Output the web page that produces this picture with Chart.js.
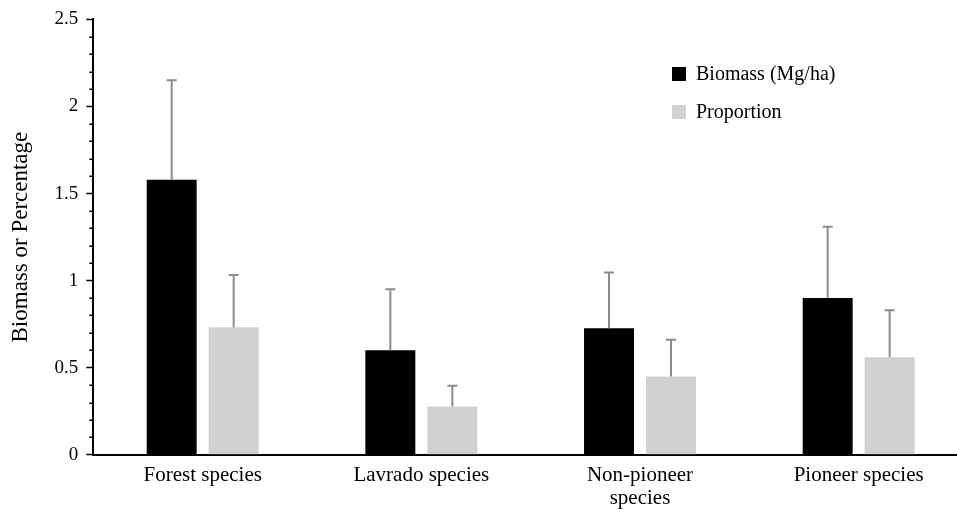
<!DOCTYPE html>
<html>
<head>
<meta charset="utf-8">
<script src="https://cdn.jsdelivr.net/npm/chart.js@4/dist/chart.umd.min.js"></script>
<style>
html,body{margin:0;padding:0;background:#fff;overflow:hidden;}
#wrap{width:970px;height:519px;position:relative;}
</style>
</head>
<body>
<div id="wrap"><canvas id="c"></canvas></div>
<script>
const categories = ["Forest species", "Lavrado species", ["Non-pioneer", "species"], "Pioneer species"];
const seriesNames = ["Biomass (Mg/ha)", "Proportion"];
const biomass = [1.58, 0.60, 0.727, 0.90];
const biomassErr = [0.57, 0.35, 0.32, 0.41];
const proportion = [0.733, 0.277, 0.45, 0.56];
const proportionErr = [0.30, 0.12, 0.21, 0.27];
const yTickLabels = [0, 0.5, 1, 1.5, 2, 2.5];

const FONT = "'Liberation Serif', 'Times New Roman', serif";

function isMajor(v) { return Math.round(v * 10) % 5 === 0; }

const errorBars = {
  id: 'errorBars',
  afterDatasetsDraw(chart) {
    const ctx = chart.ctx;
    const y = chart.scales.y;
    ctx.save();
    ctx.strokeStyle = '#8c8c8c';
    ctx.lineWidth = 2;
    chart.data.datasets.forEach((ds, i) => {
      const meta = chart.getDatasetMeta(i);
      meta.data.forEach((el, j) => {
        const top = y.getPixelForValue(ds.data[j] + ds.err[j]);
        ctx.beginPath();
        ctx.moveTo(el.x, el.y);
        ctx.lineTo(el.x, top);
        ctx.moveTo(el.x - 5, top);
        ctx.lineTo(el.x + 5, top);
        ctx.stroke();
      });
    });
    ctx.restore();
  }
};

const minorTicks = {
  id: 'minorTicks',
  afterDraw(chart) {
    const ctx = chart.ctx;
    const y = chart.scales.y;
    const x0 = chart.chartArea.left;
    ctx.save();
    ctx.strokeStyle = '#000';
    ctx.lineWidth = 1.5;
    y.ticks.forEach(t => {
      if (isMajor(t.value)) return;
      const py = Math.round(y.getPixelForValue(t.value)) + 0.25;
      ctx.beginPath();
      ctx.moveTo(x0 - 4, py);
      ctx.lineTo(x0, py);
      ctx.stroke();
    });
    ctx.restore();
  }
};

const customLegend = {
  id: 'customLegend',
  afterDraw(chart) {
    const ctx = chart.ctx;
    ctx.save();
    ctx.font = "20px " + FONT;
    ctx.textBaseline = 'middle';
    chart.data.datasets.forEach((ds, i) => {
      const cy = 74 + i * 38;
      ctx.fillStyle = ds.backgroundColor;
      ctx.fillRect(672, cy - 7, 14, 14);
      ctx.fillStyle = '#000';
      ctx.fillText(ds.label, 696, cy + 1);
    });
    ctx.restore();
  }
};

new Chart(document.getElementById('c'), {
  type: 'bar',
  data: {
    labels: categories,
    datasets: [
      { label: seriesNames[0], data: biomass, err: biomassErr, backgroundColor: '#000000' },
      { label: seriesNames[1], data: proportion, err: proportionErr, backgroundColor: '#d0d1d0' }
    ]
  },
  options: {
    responsive: true,
    maintainAspectRatio: false,
    animation: false,
    events: [],
    layout: { padding: { top: 14, left: 7, right: 2, bottom: 0 } },
    categoryPercentage: 0.567,
    barPercentage: 0.806,
    plugins: {
      legend: { display: false },
      tooltip: { enabled: false }
    },
    scales: {
      x: {
        grid: { display: false, drawTicks: false },
        border: { color: '#000', width: 2 },
        ticks: { color: '#000', font: { family: FONT, size: 21, lineHeight: 1.1 }, padding: 9, maxRotation: 0, autoSkip: false }
      },
      y: {
        min: 0, max: 2.5,
        afterBuildTicks(axis) {
          const t = [];
          for (let k = 0; k <= 25; k++) t.push({ value: k / 10 });
          axis.ticks = t;
        },
        grid: {
          drawOnChartArea: false, drawTicks: true, tickLength: 7, color: '#000', tickWidth: 1.5,
          tickColor: (c) => (c.tick && isMajor(c.tick.value)) ? '#000' : 'rgba(0,0,0,0)'
        },
        border: { color: '#000', width: 2 },
        ticks: {
          autoSkip: false,
          color: '#000', font: { family: FONT, size: 19 }, padding: 8,
          callback(v) {
            const r = Math.round(v * 10);
            return (isMajor(v) && yTickLabels.includes(r / 10)) ? String(r / 10) : '';
          }
        },
        title: { display: true, text: 'Biomass or Percentage', color: '#000', font: { family: FONT, size: 23 }, padding: { top: 0, bottom: 12 } }
      }
    }
  },
  plugins: [errorBars, minorTicks, customLegend]
});
</script>
</body>
</html>
